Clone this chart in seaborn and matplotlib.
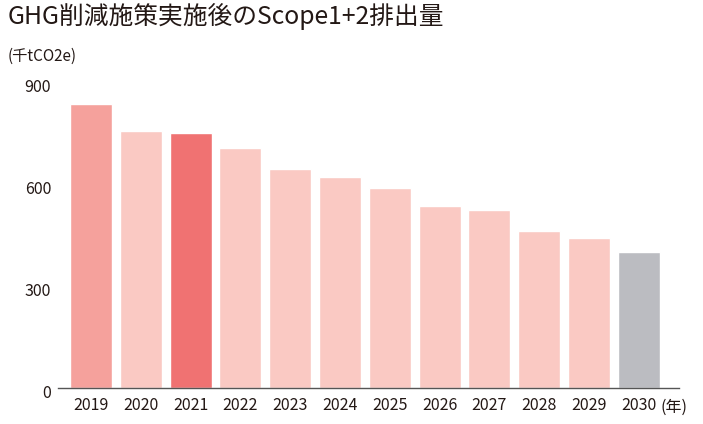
import pandas as pd
import matplotlib
matplotlib.use('Agg')
import matplotlib.pyplot as plt
import matplotlib.transforms as mtransforms
import seaborn as sns

# data
years = ['2019', '2020', '2021', '2022', '2023', '2024', '2025', '2026', '2027', '2028', '2029', '2030']
emissions = [836, 757, 751, 707, 644, 620, 590, 535, 525, 462, 442, 401]
bar_colors = ['#F5A19C', '#FAC9C3', '#F07272', '#FAC9C3', '#FAC9C3', '#FAC9C3',
              '#FAC9C3', '#FAC9C3', '#FAC9C3', '#FAC9C3', '#FAC9C3', '#BBBCC1']
y_ticks = [0, 300, 600, 900]

title = 'GHG削減施策実施後のScope1+2排出量'
unit_label = '(千tCO2e)'
year_label = '(年)'

text_color = '#231815'

sns.set_theme(style='white')
plt.rcParams['font.family'] = ['Noto Sans CJK JP', 'DejaVu Sans']

df = pd.DataFrame({'year': years, 'value': emissions})

fig = plt.figure(figsize=(7.03, 4.24), dpi=100)
ax = fig.add_axes([0.0825, 0.0842, 0.8834, 0.7219])

sns.barplot(data=df, x='year', y='value', hue='year', palette=bar_colors,
            order=years, hue_order=years, width=0.843, legend=False,
            saturation=1, ax=ax)

ax.set_xlim(-0.663, 11.807)
ax.set_ylim(0, 900)
ax.set_yticks(y_ticks)
ax.set_yticklabels([str(t) for t in y_ticks])
ax.set_xlabel('')
ax.set_ylabel('')

for side in ['top', 'right', 'left']:
    ax.spines[side].set_visible(False)
ax.spines['bottom'].set_color('#555555')
ax.spines['bottom'].set_linewidth(1.0)

ax.tick_params(axis='x', length=0, pad=6, labelsize=11.5, colors=text_color)
ax.tick_params(axis='y', length=0, pad=5, labelsize=11.5, colors=text_color)

# y labels sit a little below their ticks in the original
shift = mtransforms.ScaledTranslation(0, -3.5 / 100, fig.dpi_scale_trans)
for lbl in ax.get_yticklabels():
    lbl.set_transform(lbl.get_transform() + shift)

# year unit next to last tick label
ax.annotate(year_label, xy=(11.807, 0), xycoords='data',
            xytext=(-13, -13.5), textcoords='offset points',
            ha='left', va='center', fontsize=11.5, color=text_color,
            annotation_clip=False)

fig.text(8 / 703, 1 - 17 / 424, title, fontsize=17.8, color=text_color,
         ha='left', va='center')
fig.text(8 / 703, 1 - 56 / 424, unit_label, fontsize=11, color=text_color,
         ha='left', va='center')

fig.savefig('out.png', dpi=100)
